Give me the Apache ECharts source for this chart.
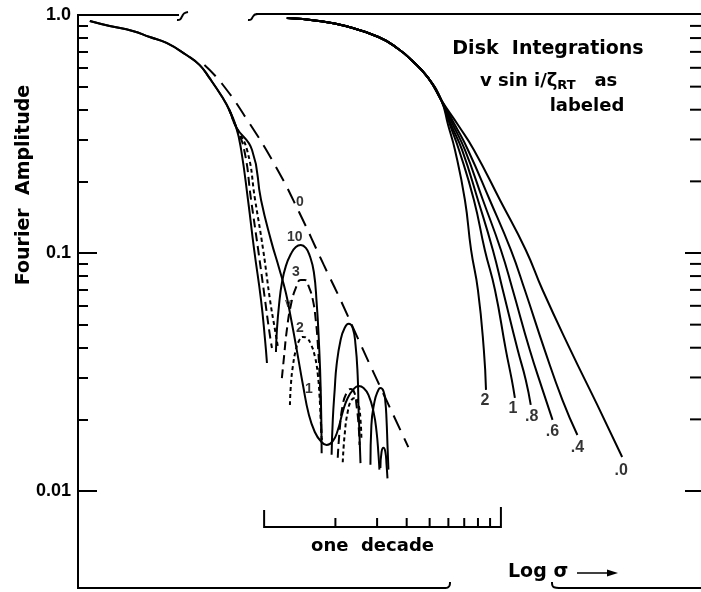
<!DOCTYPE html>
<html><head><meta charset="utf-8">
<script src="https://cdn.jsdelivr.net/npm/echarts@6/dist/echarts.min.js"></script>
<style>html,body{margin:0;padding:0;background:#fff;overflow:hidden}#c{width:701px;height:592px}</style>
</head><body><div id="c"></div>
<script>
// x = log sigma (decades, arbitrary zero), y = Fourier amplitude
const yMajorTicks = [1, 0.1, 0.01];
const yMajorLabels = ['1.0', '0.1', '0.01'];
const yMinorTicks = [0.9,0.8,0.7,0.6,0.5,0.4,0.3,0.2,0.09,0.08,0.07,0.06,0.05,0.04,0.03,0.02];
const xMin = 0, xMax = 2.631;

// left family (disk integrations, small sigma)
const leftTrunk = [[0.050,0.944],[0.134,0.899],[0.231,0.857],[0.303,0.808],[0.374,0.763],[0.458,0.679],[0.513,0.617],[0.555,0.544],[0.609,0.452],[0.639,0.399],[0.668,0.338]];
const curve10 = [[0.689,0.271],[0.718,0.167],[0.744,0.103],[0.773,0.0634],[0.790,0.0431],[0.798,0.0345], null,
 [0.836,0.0384],[0.840,0.0475],[0.849,0.0605],[0.861,0.0748],[0.878,0.0883],[0.899,0.0990],[0.920,0.106],[0.941,0.108],[0.962,0.105],[0.979,0.0971],[0.996,0.0832],[1.008,0.0616],[1.017,0.0431],[1.025,0.0266],[1.029,0.0144], null,
 [1.071,0.0142],[1.076,0.0199],[1.084,0.0266],[1.092,0.0338],[1.109,0.0431],[1.126,0.0484],[1.143,0.0504],[1.160,0.0484],[1.172,0.0411],[1.181,0.0307],[1.185,0.0219],[1.193,0.0131], null,
 [1.235,0.0129],[1.239,0.0189],[1.252,0.0237],[1.265,0.0261],[1.277,0.0271],[1.290,0.0263],[1.298,0.0237],[1.303,0.0199],[1.307,0.0156],[1.311,0.0123]];
const curve3 = [[0.639,0.399],[0.668,0.338],[0.702,0.271],[0.731,0.167],[0.761,0.103],[0.790,0.0634],[0.807,0.0475],[0.819,0.0399], null,
 [0.861,0.0298],[0.870,0.0366],[0.882,0.0475],[0.899,0.0605],[0.920,0.0713],[0.941,0.0770],[0.958,0.0770],[0.975,0.0720],[0.992,0.0634],[1.004,0.0523],[1.013,0.0411],[1.021,0.0293],[1.025,0.0219],[1.029,0.0164], null,
 [1.097,0.0138],[1.105,0.0180],[1.118,0.0230],[1.134,0.0258],[1.151,0.0268],[1.168,0.0258],[1.176,0.0230],[1.185,0.0189],[1.189,0.0156]];
const curve2 = [[0.639,0.399],[0.668,0.338],[0.714,0.271],[0.748,0.167],[0.782,0.103],[0.811,0.0634],[0.832,0.0475],[0.845,0.0399], null,
 [0.895,0.0230],[0.899,0.0279],[0.908,0.0338],[0.920,0.0391],[0.933,0.0427],[0.950,0.0444],[0.966,0.0439],[0.983,0.0415],[1.000,0.0369],[1.013,0.0307],[1.021,0.0241],[1.025,0.0199],[1.029,0.0164], null,
 [1.118,0.0132],[1.126,0.0172],[1.139,0.0215],[1.155,0.0241],[1.172,0.0246],[1.185,0.0230],[1.193,0.0199],[1.197,0.0164]];
const curve1 = [[0.735,0.271],[0.773,0.167],[0.815,0.113],[0.849,0.0865],[0.878,0.0679],[0.899,0.0533],[0.924,0.0391],[0.950,0.0279],[0.975,0.0209],[1.000,0.0177],[1.025,0.0162],[1.050,0.0156],[1.076,0.0162],[1.097,0.0180],[1.118,0.0215],[1.139,0.0246],[1.164,0.0268],[1.185,0.0276],[1.206,0.0271],[1.227,0.0253],[1.248,0.0215],[1.261,0.0177],[1.269,0.0142],[1.273,0.0123], null,
 [1.277,0.0125],[1.282,0.0146],[1.290,0.0152],[1.298,0.0146],[1.303,0.0129],[1.307,0.0113]];
const curve0 = [[0.534,0.617],[0.609,0.513],[0.723,0.352],[0.836,0.230],[0.933,0.149],[1.038,0.0891],[1.109,0.0634],[1.185,0.0431],[1.269,0.0284],[1.395,0.0153]];

// right family
const rightTrunk = [[0.882,0.971],[1.017,0.944],[1.130,0.899],[1.269,0.808],[1.353,0.720],[1.408,0.647],[1.479,0.544],[1.534,0.439]];
const rightR00 = [[1.605,0.345],[1.672,0.271],[1.782,0.167],[1.891,0.103],[1.962,0.0699],[2.080,0.0391],[2.193,0.0230],[2.298,0.0139]];
const rightR04 = [[1.592,0.345],[1.647,0.271],[1.739,0.167],[1.828,0.103],[1.887,0.0699],[1.971,0.0391],[2.046,0.0241],[2.109,0.0172]];
const rightR06 = [[1.584,0.345],[1.634,0.271],[1.710,0.167],[1.786,0.103],[1.836,0.0699],[1.908,0.0391],[1.962,0.0266],[2.004,0.0199]];
const rightR08 = [[1.576,0.345],[1.622,0.271],[1.689,0.167],[1.752,0.103],[1.794,0.0699],[1.857,0.0391],[1.891,0.0293],[1.912,0.0230]];
const rightR10 = [[1.571,0.345],[1.609,0.271],[1.672,0.167],[1.718,0.103],[1.761,0.0699],[1.807,0.0391],[1.832,0.0293],[1.845,0.0246]];
const rightR20 = [[1.563,0.345],[1.592,0.271],[1.634,0.167],[1.660,0.103],[1.689,0.0699],[1.714,0.0391],[1.723,0.0266]];

// "one decade" scale bar
const decadeStart = 0.786;
const scaleLevel = 0.00706;
const decadeMultipliers = [1,2,3,4,5,6,7,8,9,10];

const FONT = 'DejaVu Sans';
const lineStyles = {solid: 'solid', long: [16, 9], medium: [9, 5], short: [4, 3]};
const curves = [
  {data: leftTrunk.concat(curve10), dash: 'solid'},
  {data: curve3, dash: 'medium'},
  {data: curve2, dash: 'short'},
  {data: leftTrunk.concat(curve1), dash: 'solid'},
  {data: curve0, dash: 'long'},
  {data: rightTrunk.concat(rightR00), dash: 'solid'},
  {data: rightTrunk.concat(rightR04), dash: 'solid'},
  {data: rightTrunk.concat(rightR06), dash: 'solid'},
  {data: rightTrunk.concat(rightR08), dash: 'solid'},
  {data: rightTrunk.concat(rightR10), dash: 'solid'},
  {data: rightTrunk.concat(rightR20), dash: 'solid'}
];
const last = a => a[a.length - 1];
const curveLabels = [
  {text: '0', at: curve0[4], offset: [1, -10], size: 14, weight: 'bold'},
  {text: '10', at: [0.941, 0.108], offset: [-6, -8], size: 14, weight: 'bold'},
  {text: '3', at: [0.941, 0.0770], offset: [-5, -8], size: 14, weight: 'bold'},
  {text: '2', at: [0.950, 0.0444], offset: [-3, -9], size: 14, weight: 'bold'},
  {text: '1', at: [0.950, 0.0279], offset: [6, 4], size: 14, weight: 'bold'},
  {text: 'v', at: curve1[4], offset: [2, 11], size: 12, weight: 'normal'},
  {text: '2', at: last(rightR20), offset: [-1, 11], size: 16, weight: 'bold'},
  {text: '1', at: last(rightR10), offset: [-2, 11], size: 16, weight: 'bold'},
  {text: '.8', at: last(rightR08), offset: [1, 12], size: 16, weight: 'bold'},
  {text: '.6', at: last(rightR06), offset: [0, 12], size: 16, weight: 'bold'},
  {text: '.4', at: last(rightR04), offset: [0, 13], size: 16, weight: 'bold'},
  {text: '.0', at: last(rightR00), offset: [-1, 14], size: 16, weight: 'bold'}
];

function segments(arr) {
  const out = []; let cur = [];
  arr.forEach(p => { if (p === null) { if (cur.length) out.push(cur); cur = []; } else cur.push(p); });
  if (cur.length) out.push(cur);
  return out;
}

const series = [];
curves.forEach(c => {
  segments(c.data).forEach(seg => {
    series.push({
      type: 'line', data: seg, showSymbol: false, symbol: 'none', smooth: 0.5,
      silent: true, animation: false,
      lineStyle: {color: '#000', width: 2, type: lineStyles[c.dash]}
    });
  });
});
series.push({
  type: 'scatter', silent: true, animation: false, symbolSize: 0.1,
  itemStyle: {color: 'rgba(0,0,0,0)'},
  data: curveLabels.map(l => ({
    value: l.at,
    label: {show: true, position: 'inside', formatter: l.text, offset: l.offset,
      fontSize: l.size, fontWeight: l.weight, fontFamily: 'Liberation Sans', color: '#000'}
  }))
});
// right-hand ticks (the right axis line itself lies just outside the picture)
series.push({
  type: 'custom', silent: true, animation: false,
  data: yMajorTicks.slice(1).map(v => [xMax, v, 1]).concat(yMinorTicks.map(v => [xMax, v, 0])),
  renderItem: (params, api) => {
    const p = api.coord([api.value(0), api.value(1)]);
    const len = api.value(2) ? 16 : 11;
    return {type: 'line', shape: {x1: p[0], y1: p[1], x2: p[0] - len, y2: p[1]}, style: {stroke: '#000', lineWidth: 2}};
  }
});
series.push({
  type: 'custom', silent: true, animation: false,
  data: [[decadeStart, scaleLevel]],
  renderItem: (params, api) => {
    const y = api.coord([decadeStart, scaleLevel])[1];
    const xs = decadeMultipliers.map(k => api.coord([decadeStart + Math.log10(k), scaleLevel])[0]);
    const children = [{type: 'line', shape: {x1: xs[0], y1: y, x2: xs[xs.length - 1], y2: y},
      style: {stroke: '#000', lineWidth: 2}}];
    xs.forEach((x, i) => {
      const h = i === 0 ? 17 : (i === xs.length - 1 ? 20 : 9);
      children.push({type: 'line', shape: {x1: x, y1: y + 1, x2: x, y2: y - h}, style: {stroke: '#000', lineWidth: 2}});
    });
    children.push({type: 'text', style: {text: 'one  decade', x: (xs[0] + xs[xs.length - 1]) / 2 - 10, y: y + 19,
      align: 'center', verticalAlign: 'middle', fontSize: 18, fontWeight: 'bold', fontFamily: FONT, fill: '#000'}});
    return {type: 'group', children};
  }
});

const yMin = 0.003913, yMax = 1;
function tickLabel(v) {
  const i = yMajorTicks.findIndex(t => Math.abs(Math.log10(t) - Math.log10(v)) < 1e-6);
  return i >= 0 ? yMajorLabels[i] : '';
}
const baseY = {type: 'log', logBase: 10, min: yMin, max: yMax, splitLine: {show: false}};
const stroke2 = {stroke: '#000', lineWidth: 2, fill: 'none'};
const chart = echarts.init(document.getElementById('c'), null, {renderer: 'canvas'});
chart.setOption({
  backgroundColor: '#fff',
  animation: false,
  grid: {left: 78, right: -3, top: 15, bottom: 4, containLabel: false, show: false},
  xAxis: {type: 'value', min: xMin, max: xMax, show: false},
  yAxis: [
    Object.assign({}, baseY, {position: 'left',
      axisLine: {show: true, lineStyle: {color: '#000', width: 2}},
      axisTick: {show: true, inside: true, length: 19, customValues: [0.1, 0.01], lineStyle: {color: '#000', width: 2}},
      axisLabel: {show: true, customValues: yMajorTicks, formatter: tickLabel, margin: 7,
        fontSize: 18, fontWeight: 'bold', fontFamily: 'Liberation Sans', color: '#000'}}),
    Object.assign({}, baseY, {position: 'left',
      axisLine: {show: false},
      axisTick: {show: true, inside: true, length: 10, customValues: yMinorTicks, lineStyle: {color: '#000', width: 2}},
      axisLabel: {show: false}})
  ],
  graphic: [
    {type: 'line', shape: {x1: 77, y1: 15, x2: 179, y2: 15}, style: {stroke: '#000', lineWidth: 2}},
    {type: 'polyline', shape: {points: [[177, 20], [180, 19.5], [182, 16.5], [184, 13.5], [188, 12]], smooth: 0.4}, style: stroke2},
    {type: 'polyline', shape: {points: [[248, 20], [251, 19.5], [253, 16.5], [255, 14.5], [258, 14]], smooth: 0.4}, style: stroke2},
    {type: 'line', shape: {x1: 256, y1: 14, x2: 701, y2: 14}, style: {stroke: '#000', lineWidth: 2}},
    {type: 'line', shape: {x1: 77, y1: 588, x2: 446, y2: 588}, style: {stroke: '#000', lineWidth: 2}},
    {type: 'polyline', shape: {points: [[445, 588], [448, 587.3], [449.6, 585.5], [450, 582]], smooth: 0.4}, style: stroke2},
    {type: 'polyline', shape: {points: [[552, 582], [552.4, 585.5], [554, 587.3], [559, 588]], smooth: 0.4}, style: stroke2},
    {type: 'line', shape: {x1: 558, y1: 588, x2: 701, y2: 588}, style: {stroke: '#000', lineWidth: 2}},
    {type: 'text', x: 24, y: 185, rotation: Math.PI / 2,
      style: {text: 'Fourier  Amplitude', align: 'center', verticalAlign: 'middle', fontSize: 19, fontWeight: 'bold', fontFamily: FONT, fill: '#000'}},
    {type: 'text', style: {text: 'Disk  Integrations', x: 548, y: 49, align: 'center', verticalAlign: 'middle', fontSize: 19, fontWeight: 'bold', fontFamily: FONT, fill: '#000'}},
    {type: 'text', style: {text: '{a|v sin i/ζ}{s|RT}{a|   as}', x: 480, y: 81, align: 'left', verticalAlign: 'middle',
      rich: {a: {fontSize: 18, fontWeight: 'bold', fontFamily: FONT, fill: '#000'},
             s: {fontSize: 13, fontWeight: 'bold', fontFamily: FONT, fill: '#000', padding: [9, 0, 0, 0]}}}},
    {type: 'text', style: {text: 'labeled', x: 587, y: 106, align: 'center', verticalAlign: 'middle', fontSize: 18, fontWeight: 'bold', fontFamily: FONT, fill: '#000'}},
    {type: 'text', style: {text: 'Log σ', x: 508, y: 572, align: 'left', verticalAlign: 'middle', fontSize: 19, fontWeight: 'bold', fontFamily: FONT, fill: '#000'}},
    {type: 'line', shape: {x1: 577, y1: 573, x2: 612, y2: 573}, style: {stroke: '#000', lineWidth: 1.5}},
    {type: 'polygon', shape: {points: [[618, 573], [607, 569.5], [607, 576.5]]}, style: {fill: '#000'}}
  ],
  series: series
});
</script>
</body></html>
